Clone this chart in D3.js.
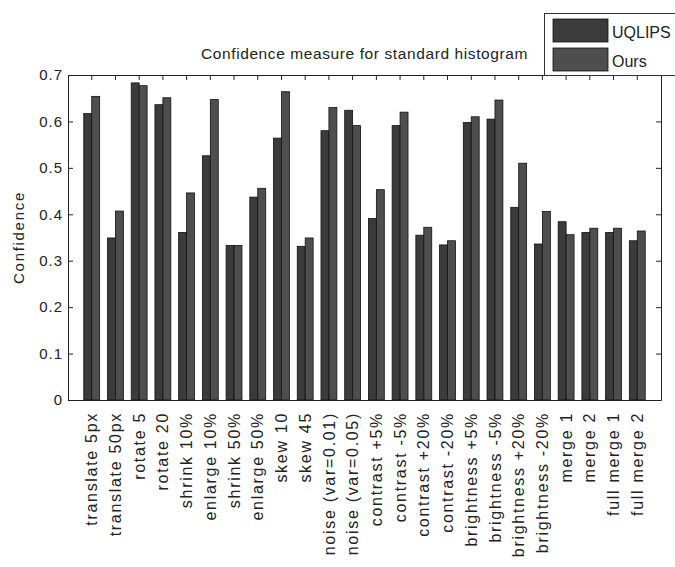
<!DOCTYPE html>
<html>
<head>
<meta charset="utf-8">
<script src="https://cdn.jsdelivr.net/npm/d3@7"></script>
<style>
  html, body { margin: 0; padding: 0; background: #fff; }
  svg text { font-family: "Liberation Sans", Arial, sans-serif; fill: #222; }
</style>
</head>
<body>
<svg id="chart" width="675" height="567"></svg>
<script>
// Transformations applied to the query images
const categories = [
  "translate 5px", "translate 50px", "rotate 5", "rotate 20",
  "shrink 10%", "enlarge 10%", "shrink 50%", "enlarge 50%",
  "skew 10", "skew 45", "noise (var=0.01)", "noise (var=0.05)",
  "contrast +5%", "contrast -5%", "contrast +20%", "contrast -20%",
  "brightness +5%", "brightness -5%", "brightness +20%", "brightness -20%",
  "merge 1", "merge 2", "full merge 1", "full merge 2"
];
const seriesNames = ["UQLIPS", "Ours"];
const uqlipsValues = [
  0.617, 0.349, 0.683, 0.636, 0.361, 0.526, 0.333, 0.437,
  0.564, 0.331, 0.580, 0.624, 0.391, 0.591, 0.355, 0.334,
  0.598, 0.605, 0.415, 0.336, 0.384, 0.361, 0.361, 0.343
];
const oursValues = [
  0.654, 0.407, 0.677, 0.651, 0.446, 0.647, 0.333, 0.456,
  0.664, 0.349, 0.630, 0.591, 0.453, 0.620, 0.372, 0.343,
  0.610, 0.646, 0.510, 0.406, 0.356, 0.370, 0.370, 0.364
];
const yTicks = [0, 0.1, 0.2, 0.3, 0.4, 0.5, 0.6, 0.7];
const yTickLabels = ["0", "0.1", "0.2", "0.3", "0.4", "0.5", "0.6", "0.7"];

const colors = ["#3b3b3b", "#4e4e4e"];
const svg = d3.select("#chart");
const m = { left: 68, right: 14, top: 75, bottom: 167 };
const W = 675, H = 567;
const x0 = m.left, x1 = W - m.right, y0 = H - m.bottom, y1 = m.top;

const x = d3.scaleBand().domain(categories).range([x0, x1])
  .paddingInner(0.33).paddingOuter(0.665);
const xs = d3.scaleBand().domain(seriesNames).range([0, x.bandwidth()]).padding(0);
const y = d3.scaleLinear().domain([0, 0.7]).range([y0, y1]);

const rows = categories.map((c, i) => ({ cat: c, vals: [uqlipsValues[i], oursValues[i]] }));

// bars
const g = svg.append("g");
g.selectAll("g.grp").data(rows).join("g")
  .attr("class", "grp")
  .attr("transform", d => `translate(${x(d.cat)},0)`)
  .selectAll("rect").data(d => d.vals.map((v, k) => ({ v, k })))
  .join("rect")
  .attr("x", d => xs(seriesNames[d.k]))
  .attr("width", xs.bandwidth())
  .attr("y", d => y(d.v))
  .attr("height", d => y(0) - y(d.v))
  .attr("fill", d => colors[d.k])
  .attr("stroke", "#111")
  .attr("stroke-width", 0.8);

// axes frame with inward ticks on all sides
const tickLen = 5;
const axL = d3.axisLeft(y).tickValues(yTicks).tickSizeInner(-tickLen).tickSizeOuter(0)
  .tickFormat((d, i) => yTickLabels[i]).tickPadding(5);
const axR = d3.axisRight(y).tickValues(yTicks).tickSizeInner(-tickLen).tickSizeOuter(0).tickFormat("");
const axB = d3.axisBottom(x).tickSizeInner(-tickLen).tickSizeOuter(0).tickFormat("");
const axT = d3.axisTop(x).tickSizeInner(-tickLen).tickSizeOuter(0).tickFormat("");

const gl = svg.append("g").attr("transform", `translate(${x0},0)`).call(axL);
svg.append("g").attr("transform", `translate(${x1},0)`).call(axR);
svg.append("g").attr("transform", `translate(0,${y0})`).call(axB);
svg.append("g").attr("transform", `translate(0,${y1})`).call(axT);
svg.selectAll(".domain").attr("stroke", "#222");
svg.selectAll(".tick line").attr("stroke", "#222");
gl.selectAll("text").attr("font-size", 15).attr("letter-spacing", "1px").attr("fill", "#222");

// rotated category labels
svg.append("g").selectAll("text").data(categories).join("text")
  .attr("transform", d => `translate(${x(d) + x.bandwidth() / 2},${y0 + 12}) rotate(-90)`)
  .attr("text-anchor", "end")
  .attr("dy", "0.35em")
  .attr("font-size", 16)
  .attr("letter-spacing", "1.7px")
  .text(d => d);

// y axis title
svg.append("text")
  .attr("transform", `translate(19,${(y0 + y1) / 2}) rotate(-90)`)
  .attr("text-anchor", "middle")
  .attr("dy", "0.35em")
  .attr("font-size", 15)
  .attr("letter-spacing", "1.7px")
  .text("Confidence");

// chart title
svg.append("text")
  .attr("x", (x0 + x1) / 2).attr("y", 59)
  .attr("text-anchor", "middle")
  .attr("font-size", 15.5)
  .attr("letter-spacing", "0.6px")
  .text("Confidence measure for standard histogram");

// legend
const lg = svg.append("g");
lg.append("rect").attr("x", 544.5).attr("y", 13.5).attr("width", 140).attr("height", 62)
  .attr("fill", "#fff").attr("stroke", "#333");
seriesNames.forEach((s, k) => {
  lg.append("rect").attr("x", 553).attr("y", 19 + k * 29).attr("width", 55).attr("height", 23)
    .attr("fill", colors[k]).attr("stroke", "#111").attr("stroke-width", 0.8);
  lg.append("text").attr("x", 612).attr("y", 38 + k * 29)
    .attr("font-size", 16).text(s);
});
</script>
</body>
</html>
